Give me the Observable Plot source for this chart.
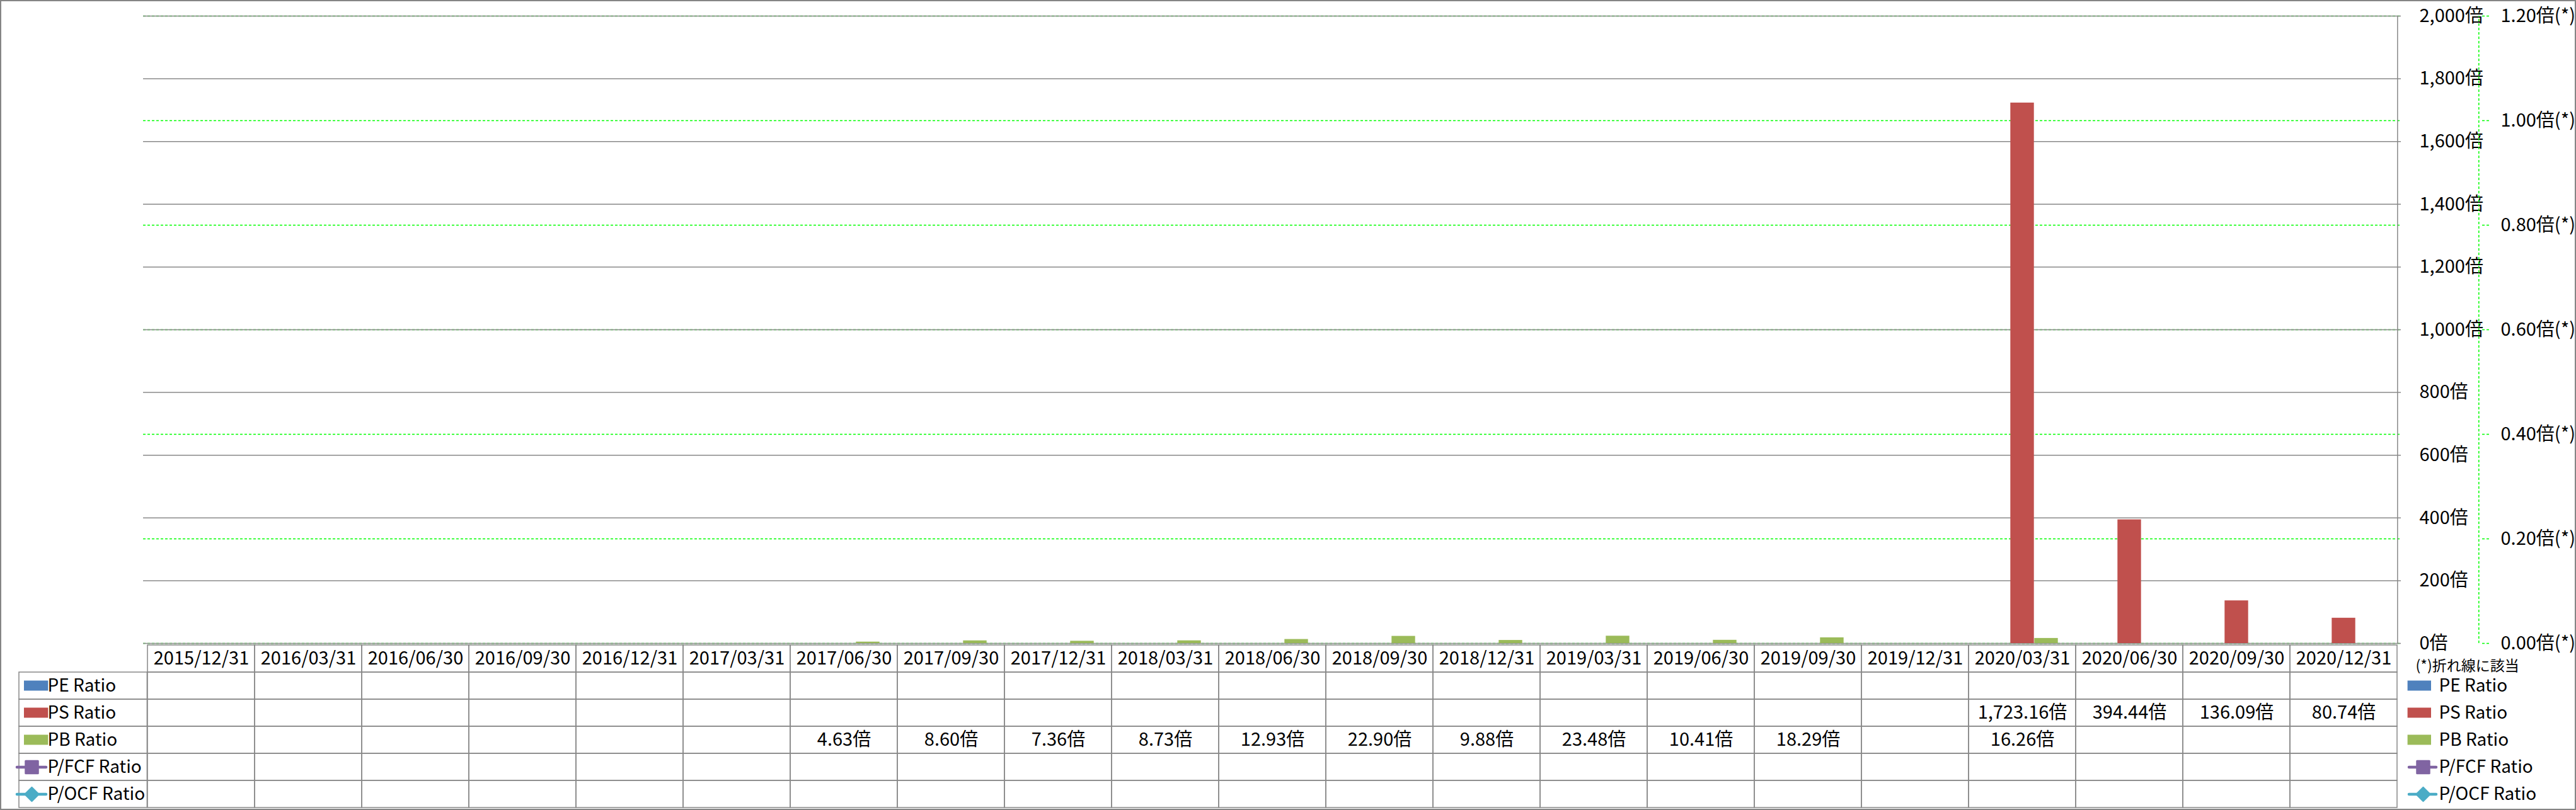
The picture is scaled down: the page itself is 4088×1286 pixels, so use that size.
<!DOCTYPE html>
<html><head><meta charset="utf-8">
<script src="https://cdn.jsdelivr.net/npm/d3@7"></script>
<script src="https://cdn.jsdelivr.net/npm/@observablehq/plot@0.6"></script>
<style>
html,body{margin:0;padding:0;background:#fff;}
#wrap{position:relative;width:4088px;height:1286px;overflow:hidden;background:#fff;}
#chart{position:absolute;left:0;top:0;}
#table{position:absolute;left:0;top:1021px;}
#border{position:absolute;left:0;top:0;width:4088px;height:1286px;box-sizing:border-box;border:2px solid #858585;pointer-events:none;}
</style></head><body>
<div id="wrap"><div id="chart"></div><div id="table"></div><div id="border"></div></div>
<script>
// ---- data ----
const dates = ["2015/12/31","2016/03/31","2016/06/30","2016/09/30","2016/12/31","2017/03/31","2017/06/30","2017/09/30","2017/12/31","2018/03/31","2018/06/30","2018/09/30","2018/12/31","2019/03/31","2019/06/30","2019/09/30","2019/12/31","2020/03/31","2020/06/30","2020/09/30","2020/12/31"];
const peRatio = [null,null,null,null,null,null,null,null,null,null,null,null,null,null,null,null,null,null,null,null,null];
const psRatio = [null,null,null,null,null,null,null,null,null,null,null,null,null,null,null,null,null,1723.16,394.44,136.09,80.74];
const pbRatio = [null,null,null,null,null,null,4.63,8.60,7.36,8.73,12.93,22.90,9.88,23.48,10.41,18.29,null,16.26,null,null,null];
const pfcfRatio = [null,null,null,null,null,null,null,null,null,null,null,null,null,null,null,null,null,null,null,null,null];
const pocfRatio = [null,null,null,null,null,null,null,null,null,null,null,null,null,null,null,null,null,null,null,null,null];
const seriesNames = ["PE Ratio","PS Ratio","PB Ratio","P/FCF Ratio","P/OCF Ratio"];
const seriesColors = ["#4F81BD","#C0504D","#9BBB59","#8064A2","#4BACC6"];
const yTicks = [0,200,400,600,800,1000,1200,1400,1600,1800,2000];
const secTicks = [0,0.2,0.4,0.6,0.8,1.0,1.2];
const secNote = "(*)折れ線に該当";

// ---- layout ----
const FONT = "'Noto Sans CJK JP','Noto Sans',sans-serif";
const W = 4088, L = 227, R = 3810;
const bw = (R - L) / dates.length;
const barW = 38;
const yMax = yTicks[yTicks.length - 1], secMax = secTicks[secTicks.length - 1];
const toPrimary = v => v * yMax / secMax;
const grey = "#888888", lime = "#00ff00";
const last = dates[dates.length - 1];
const seriesValues = [peRatio, psRatio, pbRatio, pfcfRatio, pocfRatio];
const rows = (s, i) => dates.map((d, j) => ({date: d, value: seriesValues[i][j], series: s})).filter(d => d.value != null);

const barMarks = [0,1,2].map(i => Plot.barY(rows(seriesNames[i], i), {
  x: "date", y: "value", fill: seriesColors[i],
  insetLeft: (bw - barW) / 2, insetRight: (bw - barW) / 2, dx: (i - 1) * barW
}));

const chart = Plot.plot({
  width: W, height: 1022, marginLeft: L, marginRight: W - R, marginTop: 25, marginBottom: 1,
  style: {fontFamily: FONT, fontSize: "29px", color: "#000", background: "none", overflow: "visible"},
  x: {type: "band", domain: dates, padding: 0, axis: null},
  y: {domain: [0, yMax], ticks: yTicks, axis: "right", tickSize: 0, tickPadding: 29,
      tickFormat: d => d3.format(",")(d) + "倍", label: null},
  marks: [
    Plot.ruleY(secTicks, {y: toPrimary, stroke: lime, strokeWidth: 1.5, strokeDasharray: "4,3"}),
    Plot.ruleY(yTicks, {stroke: grey, strokeWidth: 1.5}),
    ...barMarks,
    Plot.ruleX([last], {dx: bw / 2, y1: 0, y2: yMax, stroke: grey, strokeWidth: 1.5}),
    Plot.ruleX([last], {dx: bw / 2 + 129, y1: 0, y2: yMax, stroke: lime, strokeWidth: 1.5, strokeDasharray: "4,3"}),
    Plot.ruleY(secTicks, {y: toPrimary, insetLeft: (R - L) + 129, insetRight: -140, stroke: lime, strokeWidth: 1.5, strokeDasharray: "4,3"}),
    Plot.text(secTicks, {y: toPrimary, frameAnchor: "right", dx: 158, textAnchor: "start", text: v => v.toFixed(2) + "倍(*)"})
  ]
});
document.getElementById("chart").appendChild(chart);

// ---- data table ----
const tableRows = ["header", ...seriesNames];
const gridCells = tableRows.flatMap(r => dates.map(d => ({date: d, row: r})));
const fmt = d3.format(",.2f");
const legendMarks = (side) => {
  const isLeft = side === "left";
  const sx0 = isLeft ? 31 : 3826, sx1 = isLeft ? 70 : 3864;
  const tx = isLeft ? 75 : 3870;
  const lx0 = isLeft ? 27 : 3823, lx1 = isLeft ? 73 : 3866, mx = isLeft ? 50 : 3845;
  const marks = [];
  [0,1,2].forEach(i => marks.push(Plot.cell([seriesNames[i]], {
    x: () => isLeft ? dates[0] : last, y: d => d, fill: seriesColors[i],
    insetLeft: isLeft ? sx0 - L : bw - (R - sx0), insetRight: isLeft ? L + bw - sx1 : R - sx1,
    insetTop: 13.5, insetBottom: 13.5
  })));
  [3,4].forEach(i => {
    marks.push(Plot.ruleY([seriesNames[i]], {y: d => d, stroke: seriesColors[i], strokeWidth: 4.5, strokeLinecap: "round",
      insetLeft: lx0 - L, insetRight: R - lx1}));
    marks.push(Plot.dot([seriesNames[i]], {y: d => d, frameAnchor: isLeft ? "left" : "right", dx: isLeft ? mx - L : mx - R,
      symbol: i === 3 ? d3.symbolSquare : d3.symbolDiamond2, r: i === 3 ? 11 : 9.5,
      fill: seriesColors[i], stroke: seriesColors[i], strokeWidth: 3, strokeLinejoin: "round"}));
  });
  marks.push(Plot.text(seriesNames, {y: d => d, frameAnchor: isLeft ? "left" : "right", dx: isLeft ? tx - L : tx - R,
    textAnchor: "start", text: d => d, fontSize: 28}));
  return marks;
};

const table = Plot.plot({
  width: W, height: 265, marginLeft: L, marginRight: W - R, marginTop: 1, marginBottom: 2,
  style: {fontFamily: FONT, fontSize: "29px", color: "#000", background: "none", overflow: "visible"},
  x: {type: "band", domain: dates, padding: 0, axis: null},
  y: {type: "band", domain: tableRows, padding: 0, axis: null},
  marks: [
    Plot.cell(gridCells, {x: "date", y: "row", fill: "none", stroke: grey, strokeWidth: 1.5}),
    Plot.cell(seriesNames, {x: () => dates[0], y: d => d, fill: "none", stroke: grey, strokeWidth: 1.5,
      insetLeft: 23 - L, insetRight: bw}),
    Plot.text(dates, {x: d => d, y: () => "header", text: d => d}),
    ...seriesNames.flatMap((s, i) => [Plot.text(rows(s, i), {x: "date", y: "series", text: d => fmt(d.value) + "倍"})]),
    ...legendMarks("left"),
    ...legendMarks("right"),
    Plot.text([secNote], {y: () => "header", frameAnchor: "right", dx: 23, dy: 12, textAnchor: "start", text: d => d, fontSize: 23})
  ]
});
document.getElementById("table").appendChild(table);
</script>
</body></html>
